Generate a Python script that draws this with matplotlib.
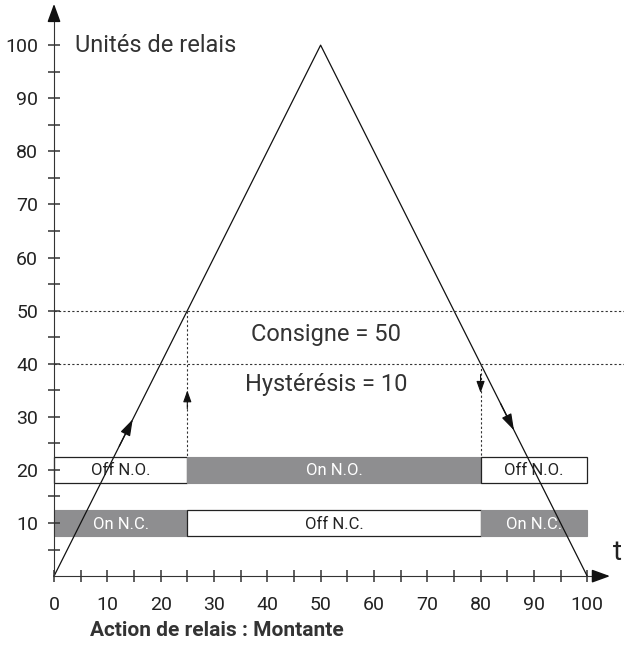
import matplotlib.pyplot as plt

# relay signal: rises to 100 then falls back
t_pts = [0, 50, 100]
v_pts = [0, 100, 0]

setpoint = 50
hysteresis = 10
t_on = 25
t_off = 80

# relay rows: (y centre, [(start, end, label, filled)])
rows = {
    20: [(0, 25, "Off N.O.", False), (25, 80, "On N.O.", True), (80, 100, "Off N.O.", False)],
    10: [(0, 25, "On N.C.", True), (25, 80, "Off N.C.", False), (80, 100, "On N.C.", True)],
}
bar_h = 5

xticks = [0, 10, 20, 30, 40, 50, 60, 70, 80, 90, 100]
yticks = [10, 20, 30, 40, 50, 60, 70, 80, 90, 100]

grey = "#8e8e90"
dark = "#333333"
plt.rcParams['font.family'] = ['Roboto', 'DejaVu Sans']

fig = plt.figure(figsize=(6.24, 6.68), dpi=100)
ax = fig.add_axes([0, 0, 1, 1])
ax.set_xlim(-10.13, 106.9)
ax.set_ylim(-17.3, 108.5)

for s in ["top", "right"]:
    ax.spines[s].set_visible(False)
ax.spines["left"].set_position(("data", 0))
ax.spines["bottom"].set_position(("data", 0))
ax.spines["left"].set_bounds(0, 106)
ax.spines["bottom"].set_bounds(0, 103)
ax.spines["left"].set_color(dark)
ax.spines["bottom"].set_color(dark)

ax.set_xticks(xticks)
ax.set_xticks([x + 5 for x in xticks[:-1]], minor=True)
ax.set_yticks(yticks)
ax.set_yticks([y - 5 for y in yticks], minor=True)
ax.tick_params(which="both", direction="inout", length=9, width=1.1, color=dark,
               labelsize=14, labelcolor="#222222")
ax.tick_params(axis="x", pad=10)
ax.tick_params(axis="y", pad=7)

# axis arrowheads
head = "-|>,head_length=1.1,head_width=0.4"
ax.annotate("", xy=(0, 108.3), xytext=(0, 104),
            arrowprops=dict(arrowstyle=head, color="#111111", lw=1.1))
ax.annotate("", xy=(104.8, 0), xytext=(101, 0),
            arrowprops=dict(arrowstyle=head, color="#111111", lw=1.1))

# signal
ax.plot(t_pts, v_pts, color="#111111", lw=0.9)
small = "-|>,head_length=1.0,head_width=0.32"
for (x0, y0), (x1, y1) in [((12, 24), (15, 30)), ((83.5, 33), (86.5, 27))]:
    ax.annotate("", xy=(x1, y1), xytext=(x0, y0),
                arrowprops=dict(arrowstyle=small, color="#111111", lw=0.9))

# setpoint / hysteresis lines
for lvl in [setpoint, setpoint - hysteresis]:
    ax.plot([0, 107], [lvl, lvl], color="#333333", lw=0.8, ls=(0, (2, 2)))
ax.plot([t_on, t_on], [setpoint, 20 + bar_h / 2], color="#333333", lw=0.8, ls=(0, (2, 2)))
ax.plot([t_off, t_off], [setpoint - hysteresis, 20 + bar_h / 2], color="#333333", lw=0.8, ls=(0, (2, 2)))
tiny = "-|>,head_length=0.7,head_width=0.25"
ax.annotate("", xy=(t_on, 35.5), xytext=(t_on, 31),
            arrowprops=dict(arrowstyle=tiny, color="#111111", lw=0.8))
ax.annotate("", xy=(t_off, 34), xytext=(t_off, 38.5),
            arrowprops=dict(arrowstyle=tiny, color="#111111", lw=0.8))

# relay bars
for yc, segs in rows.items():
    for x0, x1, lab, filled in segs:
        if filled:
            ax.barh(yc, x1 - x0, left=x0, height=bar_h, color=grey, edgecolor=grey, lw=0.8, zorder=1)
            tc = "white"
        else:
            ax.barh(yc, x1 - x0, left=x0, height=bar_h, color="white", edgecolor="#222222", lw=0.9, zorder=1)
            tc = "#222222"
        ax.text((x0 + x1) / 2, yc - 0.2, lab, ha="center", va="center", fontsize=12, color=tc, zorder=3)

ax.text(4, 100, "Unités de relais", fontsize=17, va="center", color="#333333")
ax.text(51, 45.5, f"Consigne = {setpoint}", fontsize=17, ha="center", va="center", color="#333333")
ax.text(51, 36, f"Hystérésis = {hysteresis}", fontsize=17, ha="center", va="center", color="#333333")
ax.text(105.6, 4.5, "t", fontsize=20, ha="center", va="center", color="#222222")
ax.text(6.7, -10.3, "Action de relais : Montante", fontsize=15, fontweight="bold",
        va="center", color="#333333")

fig.savefig("out.png", dpi=100)
